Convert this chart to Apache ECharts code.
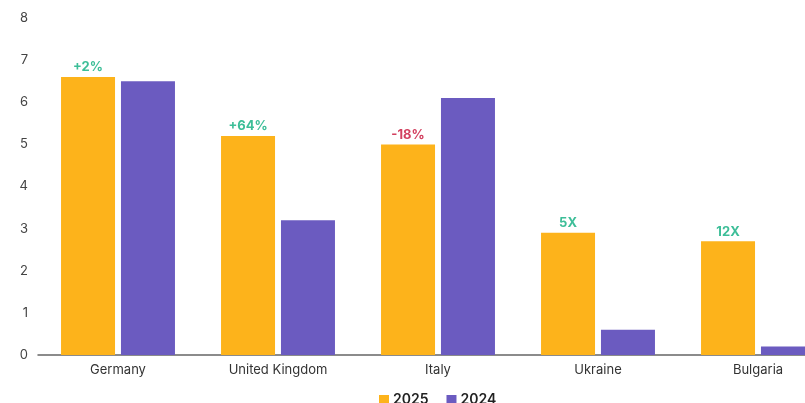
<!DOCTYPE html>
<html>
<head>
<meta charset="utf-8">
<script src="https://cdn.jsdelivr.net/npm/echarts@6/dist/echarts.min.js"></script>
<style>
  html, body { margin: 0; padding: 0; background: #ffffff; overflow: hidden; }
  /* the canvas runs a little past the right edge of the page, cutting off the last band */
  #wrap { width: 805px; height: 403px; overflow: hidden; }
  #chart { width: 838px; height: 403px; }
</style>
</head>
<body>
<div id="wrap"><div id="chart"></div></div>
<script>
// Countries on the category axis
const countries = ['Germany', 'United Kingdom', 'Italy', 'Ukraine', 'Bulgaria'];
// Values per year
const values2025 = [6.6, 5.2, 5.0, 2.9, 2.7];
const values2024 = [6.5, 3.2, 6.1, 0.6, 0.2];
// Change labels shown above the 2025 bars
const changeLabels = ['+2%', '+64%', '-18%', '5X', '12X'];
const changeUp = [true, true, false, true, true];
// Y axis ticks
const yMin = 0, yMax = 8, yStep = 1;

const ORANGE = '#FDB31B';
const PURPLE = '#6B5BC0';
const GREEN = '#3DBE98';
const RED = '#D2405F';
const FONT = 'Inter, "Noto Sans", sans-serif';

const chart = echarts.init(document.getElementById('chart'), null, { renderer: 'canvas' });

const data2025 = values2025.map((v, i) => ({
  value: v,
  label: {
    formatter: changeLabels[i],
    color: changeUp[i] ? GREEN : RED
  }
}));

chart.setOption({
  animation: false,
  backgroundColor: '#ffffff',
  textStyle: { fontFamily: FONT },
  grid: { left: 38, top: 18, right: 0, bottom: 48, containLabel: false },
  legend: {
    left: 374,
    top: 388,
    itemWidth: 10,
    itemHeight: 10,
    itemGap: 18,
    icon: 'rect',
    textStyle: { fontFamily: FONT, fontSize: 14, fontWeight: 600, color: '#222', padding: [0, 0, 0, -1] },
    data: ['2025', '2024']
  },
  xAxis: {
    type: 'category',
    data: countries,
    axisLine: { lineStyle: { color: '#666', width: 1.5 } },
    axisTick: { show: false },
    axisLabel: { color: '#333', fontSize: 13, margin: 9, fontFamily: FONT }
  },
  yAxis: {
    type: 'value',
    min: yMin,
    max: yMax,
    interval: yStep,
    splitLine: { show: false },
    axisLine: { show: false },
    axisTick: { show: false },
    axisLabel: { color: '#444', fontSize: 13, margin: 10, fontFamily: FONT }
  },
  series: [
    {
      name: '2025',
      type: 'bar',
      data: data2025,
      barWidth: 54,
      barGap: '11%',
      itemStyle: { color: ORANGE },
      label: {
        show: true,
        position: 'top',
        distance: 3,
        fontSize: 13,
        fontWeight: 700,
        fontFamily: FONT
      }
    },
    {
      name: '2024',
      type: 'bar',
      data: values2024,
      barWidth: 54,
      itemStyle: { color: PURPLE }
    }
  ]
});
</script>
</body>
</html>
